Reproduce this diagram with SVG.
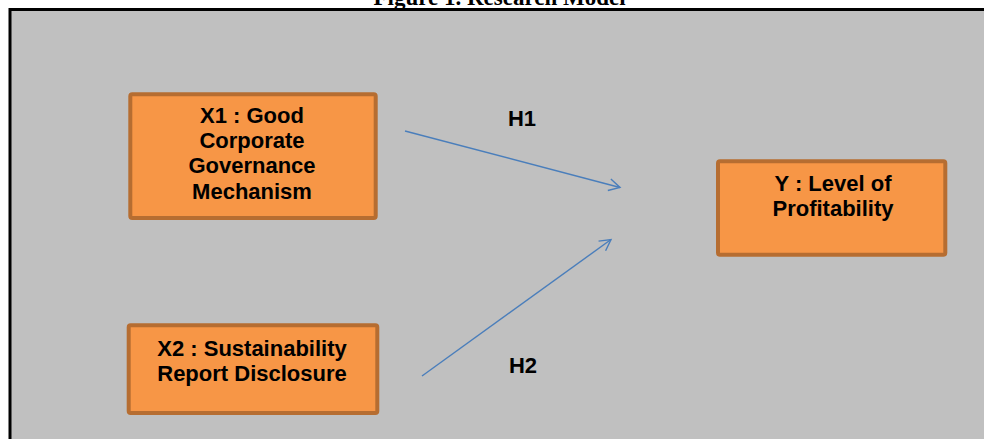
<svg xmlns="http://www.w3.org/2000/svg" width="984" height="439" viewBox="0 0 984 439">
<defs>
<style>
.node rect{fill:#F79646;stroke:#B66D31;stroke-width:4}
.node text,.lbl{font-family:"Liberation Sans",Arial,sans-serif;font-weight:bold;font-size:22px;fill:#000;text-anchor:middle}
.title{font-family:"Liberation Serif","Times New Roman",serif;font-weight:bold;font-size:23px;fill:#000;text-anchor:middle}
.conn line{stroke:#4A7EBB;stroke-width:1.4;fill:none}
</style>
<marker id="arr" markerUnits="userSpaceOnUse" markerWidth="16" markerHeight="16" refX="13" refY="8" orient="auto" viewBox="0 0 16 16">
<path d="M2,2 L13,8 L2,14" fill="none" stroke="#4A7EBB" stroke-width="1.4"/>
</marker>
</defs>
<rect x="0" y="0" width="984" height="439" fill="#fff"/>
<text class="title" x="499.5" y="5">Figure 1. Research Model</text>
<rect x="10" y="9.5" width="1000" height="450" fill="#C0C0C0" stroke="#000" stroke-width="3"/>
<g id="connectors" class="conn">
<line x1="405" y1="131" x2="620" y2="187.5" marker-end="url(#arr)"/>
<line x1="422" y1="376" x2="611" y2="239.5" marker-end="url(#arr)"/>
</g>
<text class="lbl" x="522" y="126">H1</text>
<text class="lbl" x="523" y="373">H2</text>
<g id="x1" class="node">
<rect x="130.3" y="94.3" width="245.4" height="123.7" rx="2"/>
<text x="252" y="123">X1 : Good</text>
<text x="252" y="148">Corporate</text>
<text x="252" y="173">Governance</text>
<text x="252" y="199">Mechanism</text>
</g>
<g id="x2" class="node">
<rect x="128.7" y="325.3" width="248.6" height="87.7" rx="2"/>
<text x="252" y="355.5">X2 : Sustainability</text>
<text x="252" y="380.5">Report Disclosure</text>
</g>
<g id="y" class="node">
<rect x="718" y="161.3" width="227.3" height="93.4" rx="2"/>
<text x="833" y="191">Y : Level of</text>
<text x="833" y="216">Profitability</text>
</g>
</svg>
